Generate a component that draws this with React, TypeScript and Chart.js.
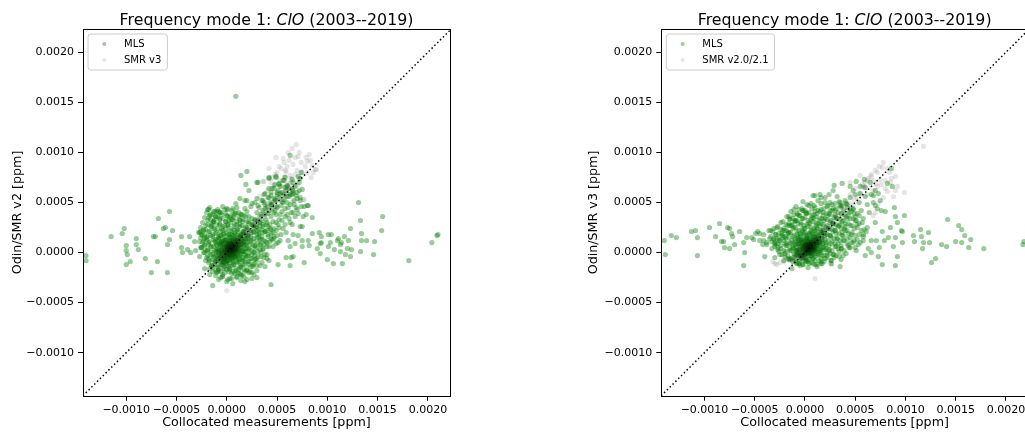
import React, { useEffect, useRef } from "react";
import { Chart, registerables } from "chart.js";

Chart.register(...registerables);

// All point values below are given in units of 1e-5 ppm.
const UNIT = 1e-5;

const TICKS = [-0.001, -0.0005, 0, 0.0005, 0.001, 0.0015, 0.002];
const AXIS_MIN = -0.00143;
const X_MAX = 0.00222;
const Y_MAX = 0.00223;
const ONE_TO_ONE = [-0.0016, 0.0025];

const TITLE_PARTS = ["Frequency mode 1: ", "ClO", " (2003--2019)"];
const X_LABEL = "Collocated measurements [ppm]";
const LEFT_Y_LABEL = "Odin/SMR v2 [ppm]";
const RIGHT_Y_LABEL = "Odin/SMR v3 [ppm]";
const LEFT_LEGEND = ["MLS", "SMR v3"];
const RIGHT_LEGEND = ["MLS", "SMR v2.0/2.1"];

type P = [number, number];

const LEFT_MLS: P[] = [
  // scattered, negative side
  [-140,-3],[-140,-8],[-115,16],[-104,19],[-102,24],[-100,7],[-100,2],[-99,-2],[-100,-12],[-96,-9],
  [-90,14],[-90,8],[-88,3],[-81,-6],[-75,-20],[-73,16],[-71,16],[-69,-9],[-68,34],[-63,24],
  [-61,25],[-59,8],[-59,-20],[-57,41],[-57,13],[-54,22],[-45,16],[-45,5],[-44,0],[-39,3],
  [-37,16],[-36,0],[-32,11],[-31,2],[-28,20],[-26,21],[-27,11],[-25,5],[-23,23],[-22,14],
  [-19,43],[-16,38],[-13,41],[-10,41],[-2,43],[-18,43],[-12,41],[-7,40],[1,43],
  // upper
  [9,156],[14,77],[20,81],[19,68],[22,62],[31,70],[42,75],[49,76],[53,66],[63,97],
  [74,80],[73,74],[77,46],[80,47],[85,35],[9,49],[13,54],[18,52],[30,70],
  // positive side
  [131,50],[133,32],[155,36],[123,24],[134,19],[154,22],[92,20],[104,18],[101,18],[94,16],
  [111,14],[117,16],[121,12],[134,12],[139,12],[147,11],[114,10],[113,8],[103,10],[94,10],
  [81,12],[82,7],[90,4],[101,6],[107,3],[124,3],[133,1],[113,1],[118,-2],[123,-4],
  [93,-1],[146,-2],[100,-7],[106,-11],[115,-11],[77,-10],[64,-5],[59,-5],[63,-13],[51,-12],
  [38,-14],[44,-32],[181,-8],[204,10],[209,17],[210,18],[66,18],[71,17],[63,6],[68,9],
  [75,26],[75,12],[73,26],[81,47],[79,38],[76,36],[42,74],[49,75],[48,68],[56,72],
  [42,64],[53,59],[60,66],[66,59],[70,54],[110,12],[120,4],[93,9],[85,19],[75,6],[66,-4],
  // lower
  [-14,-33],[18,-29],[5,-26],[13,-21],[40,-6],[-22,-16],[-17,-22],[25,-20],[30,-25],
  // dense core
  [0,0],[2,3],[4,5],[5,2],[7,6],[3,-2],[6,-1],[8,3],[1,6],[-2,2],[9,8],[4,9],[10,4],[6,10],[-1,-3],
  [2,-5],[5,-4],[8,-2],[11,1],[12,7],[0,8],[-3,5],[-4,-1],[3,12],[7,13],[12,11],[14,5],[13,-1],
  [9,-5],[1,-8],[-2,-7],[-5,3],[-6,8],[-1,12],[4,15],[10,15],[15,13],[16,9],[15,2],[11,-4],
  [6,-8],[3,-10],[-3,-10],[-6,-4],[-8,2],[-7,9],[-4,13],[2,18],[8,19],[14,18],[18,14],[19,8],
  [18,1],[16,-5],[12,-9],[7,-12],[0,-13],[-5,-12],[-9,-6],[-10,1],
  [3,4],[6,5],[2,1],[5,7],[8,6],[4,2],[1,3],[7,3],[3,8],[6,0],
  [-10,-8],[-6,-10],[-2,-9],[3,-7],[7,-9],[12,-6],[16,-8],[-11,-3],[-7,-5],[-3,-4],[1,-2],[5,-3],
  [9,-1],[13,-3],[18,-2],[-12,2],[-8,0],[-4,1],[0,3],[4,1],[8,2],[12,3],[16,1],[20,4],[-10,7],
  [-6,6],[-2,8],[2,7],[6,9],[10,7],[14,9],[18,8],[-9,12],[-5,11],[-1,13],[3,11],[7,14],[11,12],
  [15,14],[19,13],[-6,17],[-2,16],[2,18],[6,17],[10,18],[14,17],[0,-6],[4,-5],[8,-4],[-4,-7],
  [1,9],[5,12],[9,11],[-3,9],[3,0],[6,4],[10,5],[-1,5],[2,-1],[7,1],
  // ring
  [-11,10],[-8,15],[-3,19],[4,22],[11,23],[17,21],[21,17],[23,11],[22,4],[21,-3],[18,-9],
  [14,-13],[9,-16],[3,-17],[-3,-16],[-8,-15],[-12,-9],[-14,-2],[-15,6],[-13,13],[-10,20],
  [-5,24],[1,27],[8,28],[15,27],[20,25],[25,20],[27,14],[28,7],[27,0],[25,-6],[22,-12],
  [17,-17],[11,-20],[5,-21],[-2,-20],[-9,-19],[-15,-13],[-18,-6],[-19,2],[-18,10],[-16,17],
  [-13,24],[-7,28],[-1,31],[6,33],[13,32],[20,31],[26,27],[30,22],[32,15],[33,8],[31,1],
  [29,-6],[26,-12],[20,-18],[14,-22],[-20,15],[-22,8],[-23,0],[-21,-8],[-17,-16],[-11,-23],
  [-4,-24],[3,-26],[10,-25],[17,-24],[23,-19],[30,-13],[34,-4],[36,4],[37,12],[36,20],
  [33,27],[28,32],[22,36],[15,38],[8,39],[0,37],[-7,34],[-14,30],
  // body of the cloud
  [-17,45],[-9,43],[-4,46],[6,44],
  [-20,40],[-14,38],[-8,41],[-1,39],[4,37],[9,40],[14,38],[20,41],
  [-22,35],[-16,33],[-11,36],[-4,34],[2,32],[7,35],[13,33],[19,36],[25,34],[31,32],
  [-24,30],[-19,28],[-13,31],[-7,29],[-2,27],[4,30],[10,28],[16,31],[22,29],[27,27],[33,30],[39,28],
  [-26,25],[-21,23],[-15,26],[-9,24],[-4,22],[2,25],[7,23],[13,26],[18,24],[24,22],[29,25],[35,23],[41,26],[47,24],
  [-27,20],[-22,18],[-17,21],[-11,19],[-6,17],[0,20],[5,18],[11,21],[16,19],[21,17],[27,20],[32,18],[38,21],[44,19],[50,17],
  [-26,15],[-20,13],[-14,16],[-8,14],[-3,12],[3,15],[8,13],[13,16],[19,14],[24,12],[30,15],[35,13],[41,16],[47,14],[53,12],
  [-24,10],[-18,8],[-12,11],[-7,9],[-1,7],[4,10],[10,8],[15,11],[20,9],[26,7],[31,10],[37,8],[43,11],[49,9],
  [-25,5],[-19,3],[-13,6],[-8,4],[-2,2],[3,5],[8,3],[14,6],[19,4],[25,2],[30,5],[36,3],[42,6],
  [-22,0],[-16,-2],[-11,1],[-5,-1],[0,-3],[6,0],[11,-2],[17,1],[22,-1],[28,-3],[34,0],[40,-2],
  [-20,-5],[-14,-7],[-9,-4],[-3,-6],[2,-8],[8,-5],[13,-7],[19,-4],[24,-6],[30,-8],[37,-5],
  [-18,-10],[-12,-12],[-6,-9],[-1,-11],[5,-13],[10,-10],[16,-12],[21,-9],[27,-11],[33,-13],
  [-14,-15],[-8,-17],[-3,-14],[3,-16],[9,-18],[14,-15],[20,-17],[26,-14],
  [-10,-20],[-4,-22],[2,-19],[8,-21],[15,-23],[22,-20],
  [-6,-25],[1,-27],[10,-24],
  [-17,37],[-11,36],[-5,38],[1,36],[7,38],[12,36],[17,37],
  [-19,32],[-13,31],[-7,33],[-1,31],[5,33],[10,31],[16,33],[22,31],[28,33],
  [-21,27],[-16,26],[-10,28],[-4,26],[1,28],[7,26],[13,28],[19,26],[25,28],[30,26],[36,28],
  [-23,22],[-18,21],[-12,23],[-6,21],[-1,23],[5,21],[10,23],[16,21],[21,23],[27,21],[32,23],[38,21],[44,23],
  [-24,17],[-19,16],[-14,18],[-8,16],[-3,18],[3,16],[8,18],[14,16],[19,18],[24,16],[30,18],[35,16],[41,18],[47,16],
  [-23,12],[-17,11],[-11,13],[-5,11],[0,13],[6,11],[11,13],[16,11],[22,13],[27,11],[33,13],[39,11],[45,13],
  [-22,7],[-16,6],[-10,8],[-4,6],[1,8],[7,6],[12,8],[17,6],[23,8],[28,6],[34,8],[40,6],
  [-21,2],[-16,1],[-10,3],[-5,1],[1,3],[6,1],[11,3],[16,1],[22,3],[27,1],[33,3],
  [-19,-3],[-13,-4],[-8,-2],[-2,-4],[3,-2],[9,-4],[14,-2],[20,-4],[25,-2],[31,-4],
  [-17,-8],[-11,-9],[-6,-7],[0,-9],[5,-7],[11,-9],[16,-7],[22,-9],[28,-7],
  [-15,-13],[-9,-14],[-4,-12],[2,-14],[7,-12],[13,-14],[18,-12],[24,-14],
  [-11,-18],[-6,-19],[0,-17],[6,-19],[12,-17],[18,-19],
  // diagonal extension / upper-right lobe
  [35,32],[38,38],[40,30],[42,42],[44,36],[45,48],[47,40],[48,52],[50,45],[52,55],[53,38],
  [55,60],[56,50],[58,44],[60,56],[62,64],[63,48],[65,58],[67,52],[68,66],[70,60],[72,70],
  [73,55],[75,63],[40,22],[43,28],[46,20],[49,30],[52,25],[55,32],[58,28],[60,38],[38,48],
  [41,55],[44,60],[35,52],[32,45],[30,40],[37,58],[47,64],[52,68],[57,72],[49,22],[54,18],
  [59,20],[63,30],[66,40],[69,45],[61,12],[44,14],[40,10],[46,6],[51,10],[38,-2],[42,-8],
  [35,-10],[30,-18],[25,-26],[-25,18],[-26,5],[-27,-4],
  [-18,35],[-12,33],[-6,40],[0,44],[5,42],[10,45],[-15,28],[-9,36],[3,35],[12,40],[18,44],
  [24,46],[28,50],[20,52],[-8,-27],[0,-29],[6,-31],[14,-28],[20,-27],[27,-22],[-14,-19],
  [25,49],[31,47],[37,50],[44,48],[50,46],[30,54],[36,52],[42,55],[48,53],[55,51],[38,59],
  [44,57],[50,60],[57,58],[62,56],[45,64],[51,62],[58,65],[65,63],[52,69],[60,67],[66,70],
  [58,75],[65,73],[71,76],
  [32,20],[36,26],[39,33],[43,24],[46,31],[49,38],[52,33],[55,41],[58,36],[61,45],[64,40],
  [67,48],[70,43],[73,52],[54,47],[57,53],[60,50],[63,58],[66,62],[69,57],[72,62],[48,42],
  [45,44],[41,39],[38,44],[34,38],[51,28],[56,24],[62,34],[65,28],[68,36],[71,39],[74,46],
  [50,58],[47,54],[43,50],[40,46],[36,42],[33,36],[59,62],
];

const LEFT_SMR: P[] = [
  [69,108],[49,95],[57,90],[60,86],[59,81],[63,77],[80,91],[85,87],[89,83],[78,86],
  [37,71],[77,53],[62,69],[47,67],[40,62],[33,56],[65,51],[76,53],[70,67],[66,61],
  [60,59],[55,66],[63,69],[36,71],[88,83],[58,82],[0,-38],[-4,-24],
  [-10,-12],[-5,-6],[0,2],[5,6],[10,12],[15,18],[20,22],[25,28],[30,33],[35,40],[40,45],
  [45,50],[50,56],[55,60],[-15,-14],[-8,-18],[2,-12],[12,2],[18,10],[24,15],[28,24],[33,30],
  [38,36],[43,40],[48,46],[52,52],[58,55],[62,60],[66,66],[72,74],[75,80],[68,95],[72,100],
  [82,98],[50,80],[45,75],[42,84],[53,72],[-2,-16],[8,-4],[-12,-4],
  [0,0],[3,3],[5,5],[2,6],[6,2],[4,0],[1,4],[7,7],[-2,1],[8,4],[4,8],[-1,-2],[3,-3],[9,9],
  [6,10],[10,6],[-3,3],[0,7],[7,0],[2,2],[5,8],[8,1],[-4,-3],[1,-5],[11,11],
  [4,4],[6,6],[3,5],[5,3],[2,4],[7,5],[5,9],[9,5],[12,14],[14,12],
  [-8,-6],[-4,-9],[0,-4],[4,-2],[8,-1],[12,4],[14,8],[10,9],[6,13],[2,10],[-2,6],[-6,2],
  [-3,-1],[1,1],[5,4],[9,3],[7,9],[3,7],[-1,10],[12,16],[16,16],[18,20],[22,18],[20,14],
  [16,21],[24,24],[26,30],[30,28],[-6,-12],[-10,-8],
  [-5,0],[-1,4],[3,1],[7,3],[11,6],[1,-1],[5,1],[9,7],[13,10],[3,9],[-3,-5],[0,-8],[6,-6],
  [10,0],[-7,-2],[2,12],[8,14],[15,6],[17,11],[-5,8],[4,6],[6,3],[2,5],[0,1],[8,8],[10,10],
  [4,-4],[-2,-10],[12,1],[-8,4],[20,18],[23,21],[27,26],[31,31],[35,36],[39,41],[44,47],
  [49,51],[54,57],[59,63],
  [44,70],[48,78],[52,86],[56,94],[61,100],[65,104],[71,96],[74,90],[79,95],[83,92],
  [86,80],[84,75],[80,80],[70,82],[66,88],[62,92],[58,76],[54,84],[64,74],[68,78],
  [-6,-4],[-2,-6],[2,-3],[6,-2],[10,2],[-4,4],[0,6],[4,3],[8,5],[12,8],[-6,10],[-2,12],
  [2,9],[6,7],[10,13],[-8,0],[-1,-1],[3,2],[7,8],[1,5],
];

const RIGHT_MLS: P[] = [
  // scattered, negative side
  [-140,12],[-139,-2],[-133,17],[-128,15],[-113,21],[-109,22],[-107,15],[-107,-3],[-95,25],[-89,16],
  [-85,29],[-83,11],[-81,11],[-80,5],[-77,25],[-75,24],[-75,4],[-73,19],[-72,16],[-70,8],
  [-65,21],[-61,-13],[-60,0],[-61,10],[-58,15],[-53,15],[-51,13],[-49,19],[-47,21],[-45,19],
  [-42,8],[-41,12],[-40,-4],[-38,10],[-36,22],[-31,24],[-31,14],[-29,9],[-26,14],[-23,19],
  [-21,15],[-19,7],[-16,36],[-16,20],[-13,28],[-11,43],[-8,32],[-2,42],[2,39],[10,57],
  [15,58],[29,67],[37,69],[-13,-16],[-6,-11],[35,-14],[17,-11],[1,-9],
  // scattered, positive side
  [86,84],[82,69],[87,66],[51,71],[59,73],[45,66],[55,59],[68,57],[73,59],[75,52],
  [70,47],[76,42],[80,41],[89,45],[90,36],[70,30],[92,30],[85,25],[77,21],[97,21],
  [83,15],[90,15],[97,10],[88,6],[79,12],[71,12],[66,12],[74,5],[66,0],[73,-4],
  [77,-12],[90,-13],[92,-4],[108,17],[109,11],[115,23],[116,16],[118,10],[123,20],[117,4],
  [124,10],[136,8],[141,6],[142,33],[150,11],[153,27],[156,23],[159,17],[156,10],[165,13],
  [163,5],[178,4],[130,-6],[126,-10],[217,8],[218,11],[99,37],[96,22],[38,-3],[51,2],
  [60,-3],[45,5],[58,12],
  // dense core
  [0,0],[2,4],[4,6],[6,3],[8,8],[3,1],[-2,3],[5,10],[9,5],[1,8],[-3,-1],[7,-1],[10,10],[12,6],
  [4,13],[-1,11],[-5,6],[-4,0],[0,-4],[6,-4],[11,1],[14,10],[13,14],[8,15],[2,16],[-4,13],
  [-7,9],[-8,2],[-6,-4],[1,-7],[8,-6],[14,-2],[16,5],[17,12],[16,18],[11,19],[5,20],[-1,19],
  [-7,16],[-10,11],[-11,4],[-10,-2],[-5,-8],[3,-9],[10,-8],[17,-3],[20,3],[21,10],[20,17],
  [18,23],[12,24],[6,25],[-1,24],[-8,21],[-12,16],[-14,9],[-15,2],[-12,-5],[4,3],[7,11],
  [3,6],[5,5],[1,3],[6,8],[9,7],[2,9],[4,1],[7,4],[0,6],[-2,7],
  [-8,-2],[-4,-4],[0,-2],[4,-3],[8,-1],[12,-3],[16,0],[-9,4],[-5,3],[-1,2],[3,4],[7,2],[11,4],
  [15,3],[19,5],[-10,9],[-6,8],[-2,10],[2,8],[6,11],[10,9],[14,11],[18,9],[-7,14],[-3,13],
  [1,15],[5,14],[9,16],[13,15],[17,17],[-4,18],[0,20],[4,18],[8,21],[12,19],[16,22],[2,1],
  [6,6],[10,3],[-2,6],[1,11],[5,9],[8,12],[12,10],[3,-1],[7,5],[-3,8],[14,7],[0,4],[4,7],
  [9,2],[11,13],[-6,12],[13,1],[5,0],[2,12],
  // ring
  [-16,20],[-11,25],[-4,28],[4,30],[11,29],[18,28],[23,24],[25,17],[26,9],[24,2],[22,-5],
  [16,-9],[8,-11],[-2,-12],[-9,-10],[-16,-6],[-19,1],[-20,9],[-19,16],[-22,22],[-17,27],
  [-10,31],[-2,34],[7,35],[15,34],[22,33],[28,29],[30,22],[32,14],[31,6],[29,-2],[26,-8],
  [-25,12],[-27,5],[-25,-2],[-21,-8],[-29,18],[-30,10],[-33,4],[-35,14],[-34,22],[-28,25],
  [-24,30],[-15,34],[-7,38],[1,40],[10,41],[18,40],[25,38],[31,35],[35,28],[37,20],[38,12],
  [36,4],[34,-4],[40,26],[42,34],[44,40],[46,18],[48,10],[44,5],[30,42],[36,46],[42,48],
  [48,44],[50,36],[52,28],[54,50],[56,42],[58,34],[60,56],[62,48],[64,40],[66,58],[68,50],
  [70,62],[72,44],[50,58],[45,55],[40,52],[35,50],[-30,-5],[-38,8],[-41,18],[-45,12],
  [28,62],[20,55],[25,50],[60,65],[65,70],[55,66],[48,62],[62,25],[58,18],[55,10],[63,4],
  // body of the cloud
  [8,57],[16,55],[24,58],[32,56],
  [-2,51],[6,49],[13,52],[20,50],[27,48],[34,51],[41,49],
  [-9,46],[-3,44],[4,47],[10,45],[16,43],[22,46],[28,44],[35,47],[42,45],[48,43],
  [-14,41],[-8,39],[-2,42],[4,40],[9,38],[15,41],[21,39],[27,42],[33,40],[39,38],[46,41],[52,39],
  [-18,36],[-12,34],[-6,37],[0,35],[6,33],[11,36],[17,34],[23,37],[29,35],[35,33],[41,36],[48,34],[54,37],
  [-22,31],[-16,29],[-10,32],[-4,30],[2,28],[8,31],[13,29],[19,32],[25,30],[31,28],[37,31],[43,29],[50,32],[57,30],
  [-27,26],[-21,24],[-15,27],[-9,25],[-3,23],[3,26],[9,24],[15,27],[21,25],[27,23],[33,26],[39,24],[45,27],[52,25],[59,23],
  [-32,21],[-26,19],[-20,22],[-14,20],[-8,18],[-2,21],[4,19],[10,22],[16,20],[22,18],[28,21],[34,19],[40,22],[47,20],[54,18],[61,21],
  [-34,16],[-28,14],[-22,17],[-16,15],[-10,13],[-4,16],[2,14],[8,17],[14,15],[20,13],[26,16],[32,14],[38,17],[45,15],[52,13],[58,16],
  [-33,11],[-27,9],[-21,12],[-15,10],[-9,8],[-3,11],[3,9],[9,12],[15,10],[21,8],[27,11],[33,9],[39,12],[46,10],[53,8],
  [-30,6],[-24,4],[-18,7],[-12,5],[-6,3],[0,6],[6,4],[12,7],[18,5],[24,3],[30,6],[36,4],[43,7],[50,5],
  [-26,1],[-20,-1],[-14,2],[-8,0],[-2,-2],[4,1],[10,-1],[16,2],[22,0],[28,-2],[34,1],[41,-1],
  [-20,-4],[-14,-6],[-8,-3],[-2,-5],[4,-7],[10,-4],[16,-6],[22,-3],[29,-5],[36,-7],
  [-12,-9],[-6,-11],[0,-8],[6,-10],[12,-12],[19,-9],[26,-11],
  [-5,-13],[3,-15],[12,-14],
  [2,48],[9,47],[16,49],[23,47],[30,49],[37,47],
  [-6,43],[0,42],[7,44],[13,42],[19,44],[25,42],[31,44],[38,42],[45,44],
  [-11,38],[-5,37],[1,39],[7,37],[12,39],[18,37],[24,39],[30,37],[36,39],[43,37],[49,39],
  [-15,33],[-9,32],[-3,34],[3,32],[9,34],[14,32],[20,34],[26,32],[32,34],[38,32],[45,34],[51,32],
  [-19,28],[-13,27],[-7,29],[-1,27],[5,29],[11,27],[16,29],[22,27],[28,29],[34,27],[40,29],[47,27],[54,29],
  [-24,23],[-18,22],[-12,24],[-6,22],[0,24],[6,22],[12,24],[18,22],[24,24],[30,22],[36,24],[42,22],[49,24],[56,22],
  [-29,18],[-23,17],[-17,19],[-11,17],[-5,19],[1,17],[7,19],[13,17],[19,19],[25,17],[31,19],[37,17],[43,19],[50,17],
  [-31,13],[-25,12],[-19,14],[-13,12],[-7,14],[-1,12],[5,14],[11,12],[17,14],[23,12],[29,14],[35,12],[42,14],[49,12],
  [-30,8],[-24,7],[-18,9],[-12,7],[-6,9],[0,7],[6,9],[12,7],[18,9],[24,7],[30,9],[36,7],[42,9],
  [-27,3],[-21,2],[-15,4],[-9,2],[-3,4],[3,2],[9,4],[15,2],[21,4],[27,2],[33,4],[39,2],
  [-23,-2],[-17,-3],[-11,-1],[-5,-3],[1,-1],[7,-3],[13,-1],[19,-3],[25,-1],[31,-3],
  [-16,-7],[-10,-8],[-4,-6],[2,-8],[8,-6],[14,-8],[20,-6],[26,-8],
  [-8,-11],[-2,-12],[4,-11],[10,-12],[16,-11],
];

const RIGHT_SMR: P[] = [
  [118,106],[77,85],[66,78],[55,77],[99,60],[90,62],[82,61],[75,73],[71,69],[68,62],
  [73,49],[68,37],[10,-26],[-21,-9],[-18,-6],[27,-12],
  [60,70],[50,64],[45,58],[40,50],[35,45],[30,38],[25,32],[20,26],[15,20],[10,14],[5,8],
  [0,3],[-5,-2],[-10,-5],[-15,-8],[-25,-10],[-28,-12],[52,55],[48,48],[42,42],[38,35],
  [62,58],[80,72],[85,70],[57,68],[63,74],[72,80],[45,70],[92,66],[78,55],[88,56],[70,40],
  [-30,-11],[-32,-9],
  [0,0],[3,3],[5,5],[2,6],[6,2],[4,0],[1,4],[7,7],[-2,1],[8,4],[4,8],[-1,-2],[3,-3],[9,9],
  [6,10],[10,6],[-3,3],[0,7],[7,0],[2,2],[5,8],[8,1],[-4,-3],[1,-5],[11,11],
  [4,4],[6,6],[3,5],[5,3],[2,4],[7,5],[5,9],[9,5],[12,14],[14,12],
  [-8,-4],[-4,-6],[0,-1],[4,2],[8,3],[12,8],[14,10],[10,11],[6,12],[2,9],[-2,5],[-6,1],
  [-3,-3],[1,1],[5,6],[9,6],[7,10],[3,8],[-1,9],[12,16],[16,14],[18,20],[22,20],[20,16],
  [16,22],[24,26],[28,30],[30,26],[-10,-6],[-14,-7],
  [-5,2],[-1,6],[3,3],[7,5],[11,8],[1,1],[5,3],[9,9],[13,12],[3,11],[-3,-2],[0,-5],[6,-3],
  [10,2],[-7,0],[2,14],[8,16],[15,8],[17,13],[-5,10],[4,8],[6,5],[2,7],[0,3],[8,10],[10,12],
  [4,-1],[-2,-7],[12,3],[-8,6],[20,20],[23,23],[27,28],[31,33],[35,38],[39,43],[44,49],
  [49,53],[54,59],[59,65],
  [62,72],[66,76],[70,82],[74,86],[78,90],[82,84],[84,80],[90,76],[80,64],[76,68],
  [86,74],[72,66],[68,72],[58,66],
  [-6,-2],[-2,-4],[2,-1],[6,0],[10,4],[-4,6],[0,8],[4,5],[8,7],[12,10],[-6,12],[-2,14],
  [2,11],[6,9],[10,15],[-8,2],[-1,1],[3,4],[7,10],[1,7],
];

const FONT = '"DejaVu Sans"';
const GREEN = "rgba(0,128,0,0.4)";
const GREY = "rgba(0,0,0,0.1)";

const fmt = (v: number) => v.toFixed(4).replace("-", "\u2212");

function toPoints(arr: P[]) {
  return arr.map(([x, y]) => ({ x: x * UNIT, y: y * UNIT }));
}

type PanelProps = {
  left: number;
  width: number;
  yWidth: number;
  padRight: number;
  yLabel: string;
  legend: string[];
  mls: P[];
  smr: P[];
};

function Panel({ left, width, yWidth, padRight, yLabel, legend, mls, smr }: PanelProps) {
  const ref = useRef<HTMLCanvasElement | null>(null);

  useEffect(() => {
    const canvas = ref.current;
    if (!canvas) return;

    const decor = {
      id: "decor",
      afterDatasetsDraw(chart: any) {
        const { ctx, chartArea: a } = chart;
        ctx.save();
        ctx.strokeStyle = "#000";
        ctx.lineWidth = 1;
        ctx.strokeRect(Math.round(a.left) + 0.5, Math.round(a.top) + 0.5,
          Math.round(a.right) - Math.round(a.left), Math.round(a.bottom) - Math.round(a.top));
        ctx.font = `10px ${FONT}`;
        const tw = Math.max(...legend.map((t) => ctx.measureText(t).width));
        const bx = a.left + 5;
        const by = a.top + 4.7;
        const bw = 36 + tw + 6;
        const bh = 36;
        const r = 3;
        ctx.beginPath();
        ctx.moveTo(bx + r, by);
        ctx.lineTo(bx + bw - r, by);
        ctx.arcTo(bx + bw, by, bx + bw, by + r, r);
        ctx.lineTo(bx + bw, by + bh - r);
        ctx.arcTo(bx + bw, by + bh, bx + bw - r, by + bh, r);
        ctx.lineTo(bx + r, by + bh);
        ctx.arcTo(bx, by + bh, bx, by + bh - r, r);
        ctx.lineTo(bx, by + r);
        ctx.arcTo(bx, by, bx + r, by, r);
        ctx.closePath();
        ctx.fillStyle = "rgba(255,255,255,0.8)";
        ctx.fill();
        ctx.strokeStyle = "#cccccc";
        ctx.stroke();
        const colors = [GREEN, GREY];
        legend.forEach((t, i) => {
          const cy = by + 10 + i * 16;
          ctx.beginPath();
          ctx.arc(bx + 16.3, cy, 2, 0, Math.PI * 2);
          ctx.fillStyle = colors[i];
          ctx.fill();
          ctx.fillStyle = "#000";
          ctx.textBaseline = "middle";
          ctx.textAlign = "left";
          ctx.fillText(t, bx + 36, cy + 0.5);
        });
        ctx.restore();
      },
      afterDraw(chart: any) {
        const { ctx, chartArea: a } = chart;
        ctx.save();
        const fonts = [`15.8px ${FONT}`, `italic 15.8px ${FONT}`, `15.8px ${FONT}`];
        const widths = TITLE_PARTS.map((t, i) => {
          ctx.font = fonts[i];
          return ctx.measureText(t).width;
        });
        const total = widths.reduce((s, w) => s + w, 0);
        let x = (a.left + a.right) / 2 - total / 2;
        ctx.fillStyle = "#000";
        ctx.textBaseline = "alphabetic";
        ctx.textAlign = "left";
        TITLE_PARTS.forEach((t, i) => {
          ctx.font = fonts[i];
          ctx.fillText(t, x, 25);
          x += widths[i];
        });
        ctx.restore();
      },
    };

    const chart = new Chart(canvas, {
      type: "scatter",
      data: {
        datasets: [
          {
            type: "line",
            data: ONE_TO_ONE.map((v) => ({ x: v, y: v })),
            borderColor: "#000",
            borderWidth: 1.5,
            borderDash: [1.5, 2.5],
            pointRadius: 0,
            fill: false,
            order: 0,
          } as any,
          {
            data: toPoints(smr),
            backgroundColor: GREY,
            borderWidth: 0,
            pointRadius: 2.6,
            pointHoverRadius: 2.6,
            order: 1,
          },
          {
            data: toPoints(mls),
            backgroundColor: GREEN,
            borderWidth: 0,
            pointRadius: 2.6,
            pointHoverRadius: 2.6,
            order: 2,
          },
        ],
      },
      options: {
        animation: false,
        responsive: false,
        maintainAspectRatio: false,
        events: [],
        layout: { padding: { left: 0, right: padRight, top: 29.3, bottom: 0 } },
        plugins: { legend: { display: false }, tooltip: { enabled: false }, title: { display: false } },
        scales: {
          x: {
            type: "linear",
            min: AXIS_MIN,
            max: X_MAX,
            afterBuildTicks: (s: any) => {
              s.ticks = TICKS.map((v) => ({ value: v }));
            },
            afterFit: (s: any) => {
              s.height = 38.3;
            },
            ticks: {
              callback: (v: any) => fmt(Number(v)),
              font: { family: FONT, size: 11 },
              color: "#000",
              padding: 3,
              maxRotation: 0,
              autoSkip: false,
            },
            grid: { drawOnChartArea: false, drawTicks: true, tickLength: 5, color: "#000" },
            border: { display: false },
            title: {
              display: true,
              text: X_LABEL,
              font: { family: FONT, size: 12.7 },
              color: "#000",
              padding: { top: 0, bottom: 3.4 },
            },
          },
          y: {
            type: "linear",
            min: AXIS_MIN,
            max: Y_MAX,
            afterBuildTicks: (s: any) => {
              s.ticks = TICKS.map((v) => ({ value: v }));
            },
            afterFit: (s: any) => {
              s.width = yWidth;
            },
            ticks: {
              callback: (v: any) => fmt(Number(v)),
              font: { family: FONT, size: 11 },
              color: "#000",
              padding: 4,
              autoSkip: false,
            },
            grid: { drawOnChartArea: false, drawTicks: true, tickLength: 5, color: "#000" },
            border: { display: false },
            title: {
              display: true,
              text: yLabel,
              font: { family: FONT, size: 12.7 },
              color: "#000",
              padding: { top: 10, bottom: 0 },
            },
          },
        },
      },
      plugins: [decor],
    } as any);

    return () => chart.destroy();
  }, [left, width, yWidth, padRight, yLabel, legend, mls, smr]);

  return (
    <canvas
      ref={ref}
      width={width}
      height={434}
      style={{ position: "absolute", left, top: 0, width, height: 434 }}
    />
  );
}

export default function App() {
  return (
    <div
      style={{
        position: "fixed",
        left: 0,
        top: 0,
        width: 1025,
        height: 434,
        overflow: "hidden",
        background: "#fff",
      }}
    >
      <Panel left={0} width={512} yWidth={83} padRight={62} yLabel={LEFT_Y_LABEL} legend={LEFT_LEGEND} mls={LEFT_MLS} smr={LEFT_SMR} />
      <Panel left={576} width={470} yWidth={85.3} padRight={18} yLabel={RIGHT_Y_LABEL} legend={RIGHT_LEGEND} mls={RIGHT_MLS} smr={RIGHT_SMR} />
    </div>
  );
}
